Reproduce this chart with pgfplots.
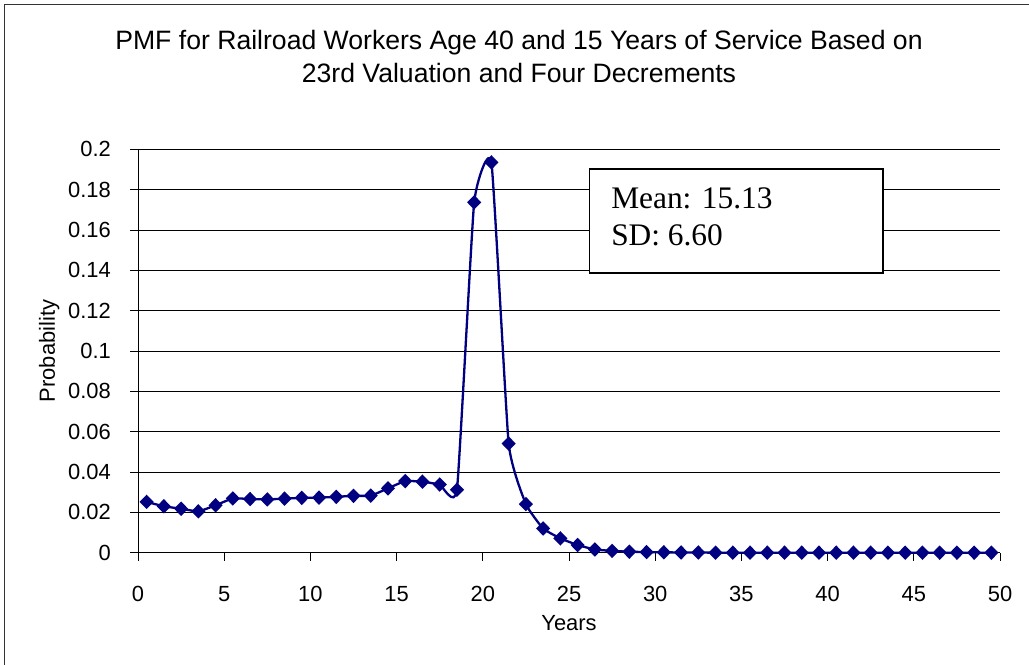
\documentclass[border=0pt]{standalone}
\usepackage{fontspec}
\setmainfont{Liberation Sans}
\newfontfamily\seriffont{Liberation Serif}
\usepackage{pgfplots}
\pgfplotsset{compat=1.18}
\definecolor{navy}{RGB}{0,0,128}

\begin{document}
\begin{tikzpicture}[x=1bp,y=1bp]
\useasboundingbox (0,0) rectangle (1029,665);
% chart area border (left and top edges only)
\draw[line width=1.5bp, black!80] (4.5,0) -- (4.5,660.5) -- (1029,660.5);
% title
\node[anchor=base] at (519,615) {\fontsize{26.7}{31}\selectfont PMF for Railroad Workers Age 40 and 15 Years of Service Based on};
\node[anchor=base] at (519,582.3) {\fontsize{26.7}{31}\selectfont 23rd Valuation and Four Decrements};

\begin{axis}[
    at={(138bp,112.3bp)}, anchor=south west,
    scale only axis,
    width=862bp, height=403.4bp,
    xmin=0, xmax=50,
    ymin=0, ymax=0.2,
    xtick={0,5,...,50},
    ytick={0,0.02,...,0.2},
    axis lines*=left,
    axis line style={line width=0.9bp, black},
    tick align=outside,
    major tick length=8bp,
    tick style={line width=0.9bp, black},
    ymajorgrids=true,
    grid style={line width=0.9bp, black},
    /pgf/number format/assume math mode=true,
    /pgf/number format/fixed,
    /pgf/number format/precision=2,
    tick label style={font=\fontsize{22}{26}\selectfont},
    xticklabel style={anchor=base, yshift=-41bp},
    yticklabel style={anchor=east, inner sep=0pt, xshift=-19bp},
    xlabel={Years},
    ylabel={Probability},
    label style={font=\fontsize{22}{26}\selectfont},
    xlabel style={at={(axis description cs:0.5,-0.1934)}, anchor=base},
    ylabel style={at={(axis description cs:-0.0965,0.5)}, anchor=base, rotate=0},
    clip=false,
]
\addplot[
    color=navy,
    line width=2.3bp,
    smooth, tension=0.25,
    mark=diamond*,
    mark size=5.6bp,
    mark options={solid, xscale=1.3, fill=navy},
    ]
    coordinates {
    (0.5,0.0252)(1.5,0.0230)(2.5,0.0218)(3.5,0.0205)(4.5,0.0235)
    (5.5,0.0269)(6.5,0.0266)(7.5,0.0264)(8.5,0.0268)(9.5,0.0272)
    (10.5,0.0273)(11.5,0.0277)(12.5,0.0282)(13.5,0.0283)(14.5,0.0319)
    (15.5,0.0355)(16.5,0.0352)(17.5,0.0338)(18.5,0.0312)(19.5,0.1737)
    (20.5,0.1935)(21.5,0.0541)(22.5,0.0241)(23.5,0.0120)(24.5,0.0071)
    (25.5,0.0038)(26.5,0.0016)(27.5,0.0009)(28.5,0.0005)(29.5,0.0003)
    (30.5,0.0002)(31.5,0.0001)(32.5,0.0001)(33.5,0)(34.5,0)
    (35.5,0)(36.5,0)(37.5,0)(38.5,0)(39.5,0)
    (40.5,0)(41.5,0)(42.5,0)(43.5,0)(44.5,0)
    (45.5,0)(46.5,0)(47.5,0)(48.5,0)(49.5,0)
    };
% statistics box
\draw[line width=1.5bp, black, fill=white] (axis cs:26.2,0.1386) rectangle (axis cs:43.2,0.1902);
\node[anchor=base west, inner sep=0pt] at (axis cs:27.44,0.1706) {\seriffont\fontsize{31.5}{36}\selectfont Mean: 15.13};
\node[anchor=base west, inner sep=0pt] at (axis cs:27.44,0.1521) {\seriffont\fontsize{31.5}{36}\selectfont SD: 6.60};
\end{axis}
\end{tikzpicture}
\end{document}
